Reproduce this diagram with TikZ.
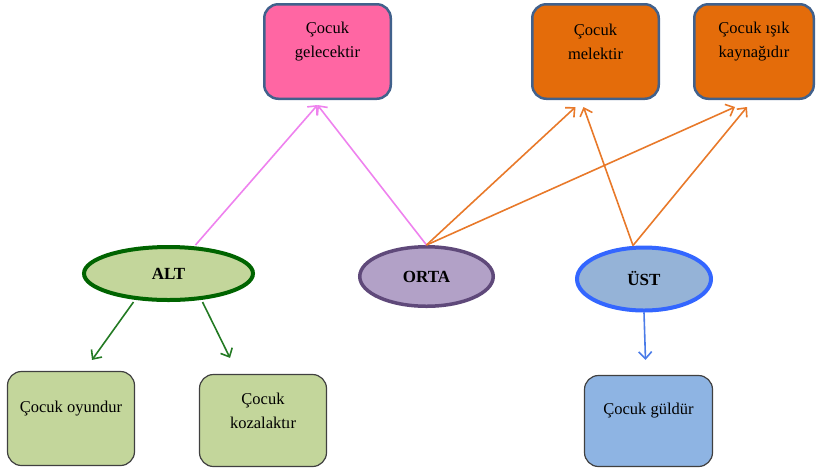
\documentclass[tikz,border=0pt]{standalone}
\usepackage{fontspec}
\setmainfont{Liberation Serif}
\usetikzlibrary{shapes.geometric, arrows.meta}

\definecolor{boxline}{HTML}{41618C}
\definecolor{pinkbox}{HTML}{FF66A3}
\definecolor{orangebox}{HTML}{E46C0A}
\definecolor{greenbox}{HTML}{C3D69B}
\definecolor{purplebox}{HTML}{B2A1C7}
\definecolor{bluebox}{HTML}{95B3D7}
\definecolor{blueboxb}{HTML}{8EB4E3}
\definecolor{altline}{HTML}{006400}
\definecolor{ortaline}{HTML}{5F497A}
\definecolor{ustline}{HTML}{3366FF}
\definecolor{pinkarrow}{HTML}{EE82EE}
\definecolor{orangearrow}{HTML}{E8792A}
\definecolor{greenarrow}{HTML}{237A23}
\definecolor{bluearrow}{HTML}{4A7BE8}

\begin{document}
\begin{tikzpicture}[x=1pt, y=-1pt,
	box/.style={rectangle, rounded corners=14pt},
	txt/.style={anchor=center, yshift=10pt, align=center, font=\fontsize{16.5}{24}\selectfont},
	oval/.style={ellipse, inner sep=0pt, font=\fontsize{17}{20}\selectfont\bfseries},
	link/.style={->, line width=1.6pt, >={Straight Barb[length=7pt,width=13pt]}}]
	\useasboundingbox (0,0) rectangle (816,475);

	% top row
	\node[box, fill=pinkbox, draw=boxline, line width=2.5pt, minimum width=126.5pt, minimum height=94.5pt,
		label={[txt]center:Çocuk\\gelecektir}] (gel) at (327.5,51.5) {};
	\node[box, fill=orangebox, draw=boxline, line width=2.5pt, minimum width=126.5pt, minimum height=94.5pt,
		label={[txt]center:Çocuk\\melektir}] (mel) at (595.5,51.5) {};
	\node[box, fill=orangebox, draw=boxline, line width=2.5pt, minimum width=119.5pt, minimum height=94.5pt,
		label={[txt]center:Çocuk ışık\\kaynağıdır}] (kay) at (754,51.5) {};

	% levels
	\node[oval, fill=greenbox, draw=altline, line width=4pt, minimum width=169pt, minimum height=53pt] (alt) at (168.5,273.5) {ALT};
	\node[oval, fill=purplebox, draw=ortaline, line width=3.5pt, minimum width=133.5pt, minimum height=59.5pt] (orta) at (426.5,276.5) {ORTA};
	\node[oval, fill=bluebox, draw=ustline, line width=4pt, minimum width=134pt, minimum height=63pt] (ust) at (644,279) {ÜST};

	% bottom row
	\node[box, fill=greenbox, draw=black!75, line width=1.2pt, minimum width=127pt, minimum height=94pt,
		label={[txt]center:Çocuk oyundur}] (oyun) at (71,418.5) {};
	\node[box, fill=greenbox, draw=black!75, line width=1.2pt, minimum width=127pt, minimum height=92pt,
		label={[txt]center:Çocuk\\kozalaktır}] (koz) at (263,420.5) {};
	\node[box, fill=blueboxb, draw=black!75, line width=1.2pt, minimum width=128pt, minimum height=91pt,
		label={[txt]center:Çocuk güldür}] (gul) at (648.5,421) {};

	\draw[link, pinkarrow] ([xshift=27pt]alt.north) -- ([xshift=-10pt, yshift=-5pt]gel.south);
	\draw[link, pinkarrow] (orta.north) -- ([xshift=-10pt, yshift=-5pt]gel.south);
	\draw[link, orangearrow] (orta.north) -- ([xshift=-20pt, yshift=-7pt]mel.south);
	\draw[link, orangearrow] (orta.north) -- ([xshift=-19pt, yshift=-7pt]kay.south);
	\draw[link, orangearrow] ([xshift=-11pt]ust.north) -- ([xshift=-12pt, yshift=-7pt]mel.south);
	\draw[link, orangearrow] ([xshift=-11pt]ust.north) -- ([xshift=-7pt, yshift=-7pt]kay.south);
	\draw[link, greenarrow] ([xshift=-35pt]alt.south) -- ([xshift=21pt, yshift=11pt]oyun.north);
	\draw[link, greenarrow] ([xshift=34pt]alt.south) -- ([xshift=-33pt, yshift=16pt]koz.north);
	\draw[link, bluearrow] (ust.south) -- ([xshift=-3pt, yshift=15pt]gul.north);
\end{tikzpicture}
\end{document}
